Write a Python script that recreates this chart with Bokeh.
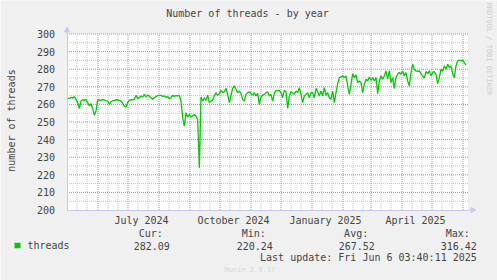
from datetime import datetime, timedelta
from math import pi
import pandas as pd
from bokeh.plotting import figure
from bokeh.models import (Range1d, FixedTicker, DatetimeTickFormatter, Label,
                          Arrow, NormalHead, BoxAnnotation, ColumnDataSource,
                          DatetimeAxis, LinearAxis)
from bokeh.embed import file_html
from bokeh.resources import INLINE

# ---------------- data ----------------
TITLE = "Number of threads - by year"
Y_LABEL = "number of threads"
SERIES_NAME = "threads"
SIDE_TEXT = "RRDTOOL / TOBI OETIKER"
FOOTER = "Munin 2.0.37"
LAST_UPDATE = "Last update: Fri Jun  6 03:40:11 2025"

START = datetime(2024, 5, 1, 16, 0)   # first sample
STEP_HOURS = 40                        # sample spacing (hours)

threads = [
    263.8, 263.2, 264.0, 263.6, 264.4, 262.9, 261.0, 257.7, 261.9, 262.7,
    262.3, 262.9, 261.0, 259.2, 260.4, 257.7, 253.9, 256.2, 262.7, 262.5,
    262.3, 262.7, 262.5, 262.1, 261.9, 260.0, 261.5, 262.1, 262.3, 262.7,
    262.5, 262.3, 261.9, 260.6, 259.0, 258.5, 261.1, 262.3, 262.7, 262.5,
    262.9, 265.1, 263.4, 263.8, 264.8, 264.2, 265.7, 264.2, 265.3, 264.6,
    263.8, 262.9, 263.8, 264.4, 265.0, 265.1, 265.1, 264.6, 264.8, 264.0,
    264.4, 263.2, 263.8, 265.1, 264.6, 265.0, 264.8, 265.1, 261.9, 252.4,
    247.6, 255.2, 252.8, 254.3, 252.8, 253.3, 254.3, 253.3, 251.4, 224.0,
    264.2, 261.9, 263.8, 262.3, 265.3, 261.0, 261.9, 262.3, 264.8, 266.7,
    265.1, 266.1, 268.0, 266.7, 267.2, 269.1, 265.7, 261.0, 265.1, 269.1,
    270.5, 268.6, 266.7, 267.6, 266.1,
    262.9, 261.9, 265.7, 266.7, 267.2, 266.1, 265.3, 266.7, 264.8, 266.3,
    260.0, 264.2, 265.3, 265.7, 266.7, 267.2, 264.8, 265.7, 261.9, 266.1,
    268.0, 267.6, 268.0, 266.7, 263.8, 268.0, 267.2, 257.7, 264.8, 267.2,
    266.7, 265.7, 267.6, 266.7, 269.5, 265.7, 261.0, 264.8, 265.7, 266.7,
    263.8, 266.7, 266.7, 263.8, 269.1, 267.2, 264.8, 267.6, 264.8, 269.5,
    265.1, 266.7, 263.8, 262.9, 267.6, 261.0, 266.7, 271.8, 275.2, 275.6,
    276.2, 275.2, 276.2, 270.5, 265.7, 271.4, 277.5, 275.2, 276.8, 272.4,
    273.3, 272.4, 266.7, 271.4, 274.3, 273.3, 275.6, 273.7, 275.2, 273.3,
    275.2, 266.1, 273.3, 276.2, 274.3, 276.2, 279.0, 274.3, 279.0, 272.4,
    275.2, 269.1, 275.2, 277.1, 278.1, 277.1, 279.0, 276.2, 278.1, 273.3,
    270.5, 278.1, 282.9, 280.0, 279.0, 278.7, 279.0, 277.5, 276.2, 274.9,
    278.7, 277.5, 279.0, 276.2, 278.1, 278.7, 277.1, 271.8, 275.2, 280.0,
    279.0, 281.9, 280.0, 282.9, 281.0, 281.9, 277.5, 275.2, 281.9, 284.8,
    285.1, 284.8, 285.1, 283.8, 282.3,
]

X_START = datetime(2024, 5, 1)
X_END = datetime(2025, 6, 6)
Y_MIN, Y_MAX = 200, 300
Y_TICKS = list(range(200, 301, 10))
Y_MINOR = list(range(205, 300, 10))
X_LABEL_DATES = [datetime(2024, 7, 14, 12), datetime(2024, 10, 14, 12),
                 datetime(2025, 1, 14, 12), datetime(2025, 4, 14, 12)]
MONTH_STARTS = list(pd.date_range("2024-06-01", "2025-06-01", freq="MS"))
MINOR_DATES = [d + pd.Timedelta(days=k)
               for d in pd.date_range("2024-05-01", "2025-05-01", freq="MS")
               for k in (10, 20)]

STAT_HEADS = ["Cur:", "Min:", "Avg:", "Max:"]
STAT_VALUES = ["282.09", "220.24", "267.52", "316.42"]

# ---------------- layout / styles ----------------
W, H = 497, 280
PLOT_LEFT, PLOT_TOP, PLOT_W, PLOT_H = 66.5, 33.5, 401, 176
FONT = "DejaVu Sans Mono"
TEXT_COLOR = "#444444"
LINE_COLOR = "#00CC00"
AXIS_COLOR = "#C8C8F0"
MAJOR_GRID = "#E87A7A"
MINOR_GRID = "#C4C4C4"
BG = "#F0F0F0"


def ms(d):
    return pd.Timestamp(d).value / 1e6


x0_ms, x1_ms = ms(X_START), ms(X_END)
px_per_ms = PLOT_W / (x1_ms - x0_ms)
px_per_unit = PLOT_H / (Y_MAX - Y_MIN)
x_range = Range1d(x0_ms - PLOT_LEFT / px_per_ms, x0_ms + (W - PLOT_LEFT) / px_per_ms)
y_range = Range1d(Y_MIN - (H - PLOT_TOP - PLOT_H) / px_per_unit,
                  Y_MAX + PLOT_TOP / px_per_unit)

times = [START + timedelta(hours=STEP_HOURS * i) for i in range(len(threads))]
src = ColumnDataSource(dict(t=[ms(t) for t in times], v=threads))

p = figure(width=W, height=H, output_backend="svg", toolbar_location=None,
           x_range=x_range, y_range=y_range,
           x_axis_location=None, y_axis_location=None,
           min_border=0)
p.background_fill_color = BG
p.border_fill_color = BG
p.outline_line_color = None
p.grid.visible = False

# white plotting area
p.add_layout(BoxAnnotation(left=x0_ms, right=x1_ms, bottom=Y_MIN, top=Y_MAX,
                           fill_color="white", fill_alpha=1.0, line_color=None,
                           level="underlay"))

# grid lines (from tick lists)
xmin_ms = [ms(d) for d in MINOR_DATES]
xmaj_ms = [ms(d) for d in MONTH_STARTS]
p.segment(x0=xmin_ms, x1=xmin_ms, y0=[Y_MIN] * len(xmin_ms), y1=[Y_MAX] * len(xmin_ms),
          line_color=MINOR_GRID, line_dash="1 1", line_width=1)
p.segment(x0=[x0_ms] * len(Y_MINOR), x1=[x1_ms] * len(Y_MINOR), y0=Y_MINOR, y1=Y_MINOR,
          line_color=MINOR_GRID, line_dash="1 1", line_width=1)
p.segment(x0=xmaj_ms, x1=xmaj_ms, y0=[Y_MIN] * len(xmaj_ms), y1=[Y_MAX] * len(xmaj_ms),
          line_color=MAJOR_GRID, line_dash="1 1", line_width=1)
ymaj = Y_TICKS[1:]
p.segment(x0=[x0_ms] * len(ymaj), x1=[x1_ms] * len(ymaj), y0=ymaj, y1=ymaj,
          line_color=MAJOR_GRID, line_dash="1 1", line_width=1)

# data
p.line("t", "v", source=src, color=LINE_COLOR, line_width=1.3)

# axes at fixed locations
xaxis = DatetimeAxis(fixed_location=Y_MIN, bounds=(x0_ms, x1_ms),
                     ticker=FixedTicker(ticks=[ms(d) for d in X_LABEL_DATES]),
                     formatter=DatetimeTickFormatter(
                         months="%B %Y", days="%B %Y", hours="%B %Y", years="%B %Y",
                         minutes="%B %Y", seconds="%B %Y",
                         milliseconds="%B %Y", microseconds="%B %Y"))
yaxis = LinearAxis(fixed_location=x0_ms, bounds=(Y_MIN, Y_MAX),
                   ticker=FixedTicker(ticks=Y_TICKS))
for ax in (xaxis, yaxis):
    ax.axis_line_color = AXIS_COLOR
    ax.major_tick_line_color = None
    ax.minor_tick_line_color = None
    ax.major_label_text_font = FONT
    ax.major_label_text_font_size = "10px"
    ax.major_label_text_color = TEXT_COLOR
xaxis.major_label_standoff = -1
yaxis.major_label_standoff = 6
p.add_layout(xaxis, "below")
p.add_layout(yaxis, "left")

# axis arrows
head = dict(size=5, fill_color=AXIS_COLOR, line_color=AXIS_COLOR)
p.add_layout(Arrow(end=NormalHead(**head), x_start=x1_ms, y_start=Y_MIN,
                   x_end=x1_ms + 8 / px_per_ms, y_end=Y_MIN, line_color=AXIS_COLOR))
p.add_layout(Arrow(end=NormalHead(**head), x_start=x0_ms, y_start=Y_MAX,
                   x_end=x0_ms, y_end=Y_MAX + 7 / px_per_unit, line_color=AXIS_COLOR))


def lab(text, cx, cy, align="left", size="10px", color=TEXT_COLOR, angle=0):
    # cx, cy: canvas pixel position (from top-left)
    p.add_layout(Label(x=cx, y=H - cy, x_units="screen", y_units="screen", text=text,
                       text_font=FONT, text_font_size=size, text_color=color,
                       text_align=align, text_baseline="middle", angle=angle))


lab(TITLE, 247, 12.5, align="center")
lab(Y_LABEL, 11, 120, align="center", angle=pi / 2)
lab(SIDE_TEXT, 488, 48.5, align="center", size="7px", color="#CFCFCF", angle=-pi / 2)
lab(SERIES_NAME, 27, 245)
head_right = [162.3, 265.3, 367.7, 469.3]
val_right = [169.3, 272.3, 374.3, 476.3]
for h_txt, v_txt, hx, vx in zip(STAT_HEADS, STAT_VALUES, head_right, val_right):
    lab(h_txt, hx, 232.7, align="right")
    lab(v_txt, vx, 245, align="right")
lab(LAST_UPDATE, 482.3, 257, align="right")
lab(FOOTER, 224, 269, size="7px", color="#D8D8D8")

# legend swatch
p.add_layout(BoxAnnotation(left=14, right=20, bottom=H - 247.7, top=H - 242.3,
                           left_units="screen", right_units="screen",
                           top_units="screen", bottom_units="screen",
                           fill_color=LINE_COLOR, fill_alpha=1.0, line_color=None))

open("out.html", "w").write(file_html(p, INLINE))
